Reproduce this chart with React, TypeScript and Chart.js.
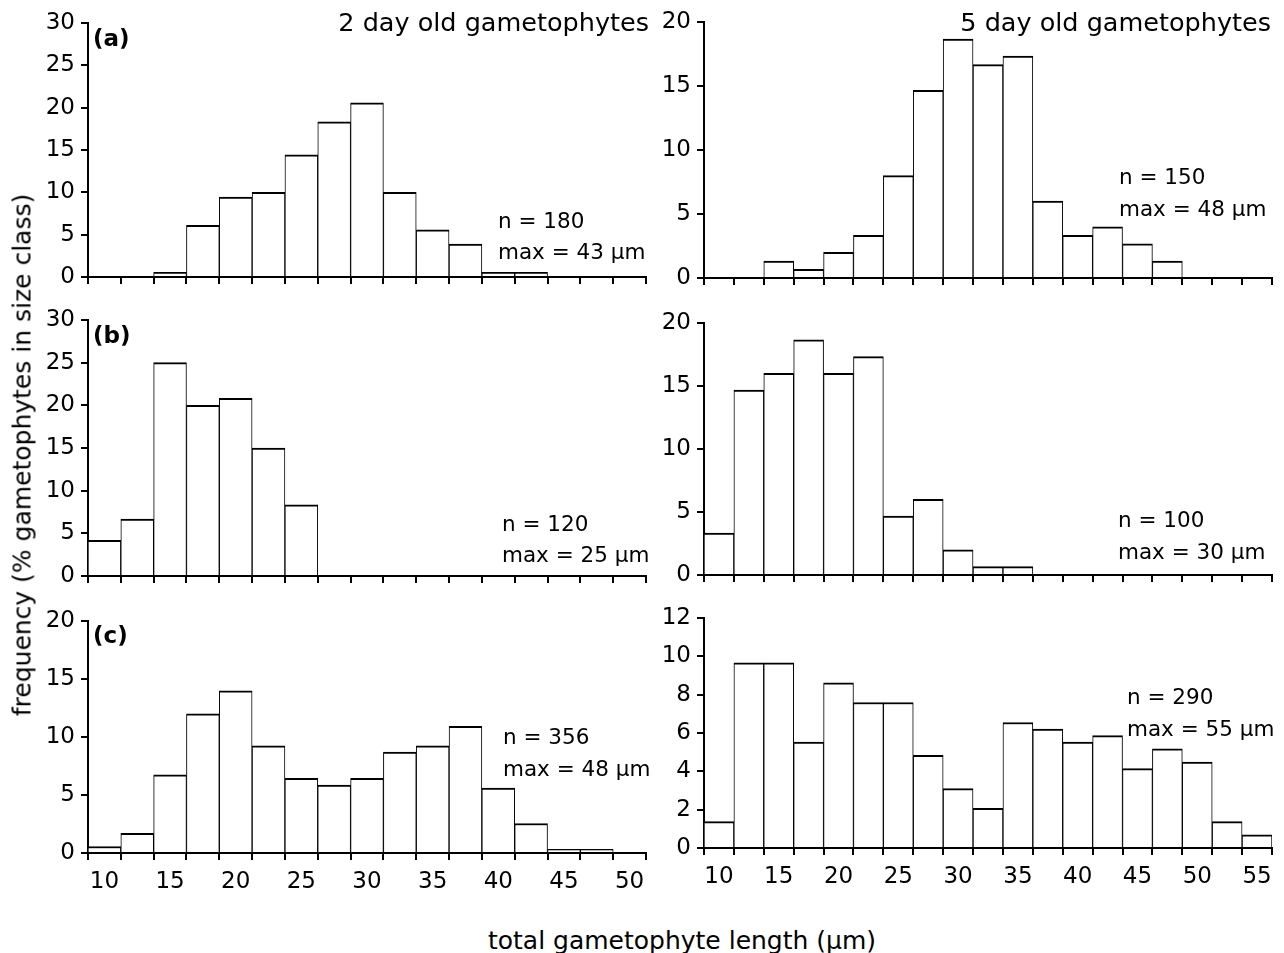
import React, { useEffect, useRef } from "react";
import { Chart, registerables } from "chart.js";

Chart.register(...registerables);

const FONT = "'DejaVu Sans', sans-serif";

// bin centres (µm), 2.5 µm wide classes
const binsTwoDay = [10, 12.5, 15, 17.5, 20, 22.5, 25, 27.5, 30, 32.5, 35, 37.5, 40, 42.5, 45, 47.5, 50];
const binsFiveDay = [10, 12.5, 15, 17.5, 20, 22.5, 25, 27.5, 30, 32.5, 35, 37.5, 40, 42.5, 45, 47.5, 50, 52.5, 55];

// frequency (% gametophytes in size class)
const twoDayA = [0, 0, 0.56, 6.11, 9.44, 10, 14.44, 18.33, 20.56, 10, 5.56, 3.89, 0.56, 0.56, 0, 0, 0];
const fiveDayA = [0, 0, 1.33, 0.67, 2.0, 3.33, 8.0, 14.67, 18.67, 16.67, 17.33, 6.0, 3.33, 4.0, 2.67, 1.33, 0, 0, 0];
const twoDayB = [4.17, 6.67, 25, 20, 20.83, 15, 8.33, 0, 0, 0, 0, 0, 0, 0, 0, 0, 0];
const fiveDayB = [3.33, 14.67, 16, 18.67, 16, 17.33, 4.67, 6, 2, 0.67, 0.67, 0, 0, 0, 0, 0, 0, 0, 0];
const twoDayC = [0.56, 1.69, 6.74, 12.0, 13.97, 9.23, 6.43, 5.86, 6.43, 8.69, 9.23, 10.91, 5.6, 2.54, 0.31, 0.31, 0];
const fiveDayC = [1.38, 9.66, 9.66, 5.52, 8.62, 7.59, 7.59, 4.83, 3.1, 2.07, 6.55, 6.21, 5.52, 5.86, 4.14, 5.17, 4.48, 1.38, 0.69];

const YW = 70;
const PT = 26;
const PR = 8;

type PanelProps = {
  labels: number[];
  values: number[];
  yMax: number;
  yStep: number;
  showX: boolean;
  left: number;
  right: number;
  top: number;
  bottom: number;
};

function Panel({ labels, values, yMax, yStep, showX, left, right, top, bottom }: PanelProps) {
  const ref = useRef<HTMLCanvasElement>(null);
  const XH = showX ? 46 : 26;
  const w = YW + (right - left) + PR;
  const h = PT + (bottom - top) + XH;
  useEffect(() => {
    const axisGrid = {
      drawOnChartArea: false,
      drawTicks: true,
      tickLength: 7,
      color: "#000",
      lineWidth: 2,
    };
    const border = { display: true, color: "#000", width: 2 };
    const chart = new Chart(ref.current as HTMLCanvasElement, {
      type: "bar",
      data: {
        labels: labels.map(String),
        datasets: [
          {
            data: values,
            backgroundColor: "#fff",
            borderColor: "#000",
            borderWidth: { top: 2, left: 1, right: 1, bottom: 0 },
            borderSkipped: false,
            barPercentage: 1,
            categoryPercentage: 1,
          },
        ],
      },
      options: {
        responsive: false,
        animation: false,
        devicePixelRatio: 1,
        layout: { padding: { top: PT, right: PR, left: 0, bottom: 0 } },
        plugins: { legend: { display: false }, tooltip: { enabled: false } },
        scales: {
          x: {
            offset: true,
            grid: { ...axisGrid, offset: true },
            border,
            ticks: {
              autoSkip: false,
              maxRotation: 0,
              minRotation: 0,
              padding: 8,
              color: "#000",
              font: { family: FONT, size: 23 },
              callback: (_v: any, i: number) =>
                showX && labels[i] % 5 === 0 ? String(labels[i]) : "",
            },
            afterFit: (s: any) => {
              s.height = XH;
            },
          },
          y: {
            min: 0,
            max: yMax,
            grid: axisGrid,
            border,
            ticks: {
              stepSize: yStep,
              padding: 6,
              color: "#000",
              font: { family: FONT, size: 23 },
            },
            afterFit: (s: any) => {
              s.width = YW;
            },
          },
        },
      } as any,
    });
    return () => chart.destroy();
  }, []);
  return (
    <canvas
      ref={ref}
      width={w}
      height={h}
      style={{ position: "absolute", left: left - YW, top: top - PT, width: w, height: h }}
    />
  );
}

function Txt({
  x,
  y,
  text,
  size = 22,
  bold = false,
  alignRight = false,
}: {
  x: number;
  y: number;
  text: string;
  size?: number;
  bold?: boolean;
  alignRight?: boolean;
}) {
  const style: any = {
    position: "absolute",
    top: y,
    transform: "translateY(-50%)",
    fontSize: size,
    lineHeight: 1,
    fontWeight: bold ? "bold" : "normal",
    whiteSpace: "nowrap",
    color: "#000",
  };
  if (alignRight) style.right = 1284 - x;
  else style.left = x;
  return <div style={style}>{text}</div>;
}

export default function App() {
  return (
    <div
      style={{
        position: "absolute",
        left: 0,
        top: 0,
        width: 1284,
        height: 953,
        background: "#fff",
        fontFamily: FONT,
        overflow: "hidden",
      }}
    >
      <Panel labels={binsTwoDay} values={twoDayA} yMax={30} yStep={5} showX={false} left={88} right={646} top={23} bottom={277} />
      <Panel labels={binsFiveDay} values={fiveDayA} yMax={20} yStep={5} showX={false} left={704} right={1272} top={22} bottom={278} />
      <Panel labels={binsTwoDay} values={twoDayB} yMax={30} yStep={5} showX={false} left={88} right={646} top={320} bottom={576} />
      <Panel labels={binsFiveDay} values={fiveDayB} yMax={20} yStep={5} showX={false} left={704} right={1272} top={323} bottom={575} />
      <Panel labels={binsTwoDay} values={twoDayC} yMax={20} yStep={5} showX={true} left={88} right={646} top={621} bottom={853} />
      <Panel labels={binsFiveDay} values={fiveDayC} yMax={12} yStep={2} showX={true} left={704} right={1272} top={618} bottom={848} />

      <Txt x={649} y={23} text="2 day old gametophytes" size={25.5} alignRight />
      <Txt x={1271} y={23} text="5 day old gametophytes" size={25.5} alignRight />

      <Txt x={93} y={38} text="(a)" size={23} bold />
      <Txt x={93} y={335} text="(b)" size={23} bold />
      <Txt x={93} y={635} text="(c)" size={23} bold />

      <Txt x={498} y={221} text="n = 180" size={21.5} />
      <Txt x={498} y={252} text="max = 43 µm" size={21.5} />
      <Txt x={1119} y={177} text="n = 150" size={21.5} />
      <Txt x={1119} y={209} text="max = 48 µm" size={21.5} />
      <Txt x={502} y={524} text="n = 120" size={21.5} />
      <Txt x={502} y={555} text="max = 25 µm" size={21.5} />
      <Txt x={1118} y={520} text="n = 100" size={21.5} />
      <Txt x={1118} y={552} text="max = 30 µm" size={21.5} />
      <Txt x={503} y={737} text="n = 356" size={21.5} />
      <Txt x={503} y={769} text="max = 48 µm" size={21.5} />
      <Txt x={1127} y={697} text="n = 290" size={21.5} />
      <Txt x={1127} y={729} text="max = 55 µm" size={21.5} />

      <div
        style={{
          position: "absolute",
          left: 22,
          top: 455,
          transform: "translate(-50%, -50%) rotate(-90deg)",
          fontSize: 25,
          lineHeight: 1,
          whiteSpace: "nowrap",
          color: "#000",
        }}
      >
        frequency (% gametophytes in size class)
      </div>
      <div
        style={{
          position: "absolute",
          left: 682,
          top: 940,
          transform: "translate(-50%, -50%)",
          fontSize: 25,
          lineHeight: 1,
          whiteSpace: "nowrap",
          color: "#000",
        }}
      >
        total gametophyte length (µm)
      </div>
    </div>
  );
}
